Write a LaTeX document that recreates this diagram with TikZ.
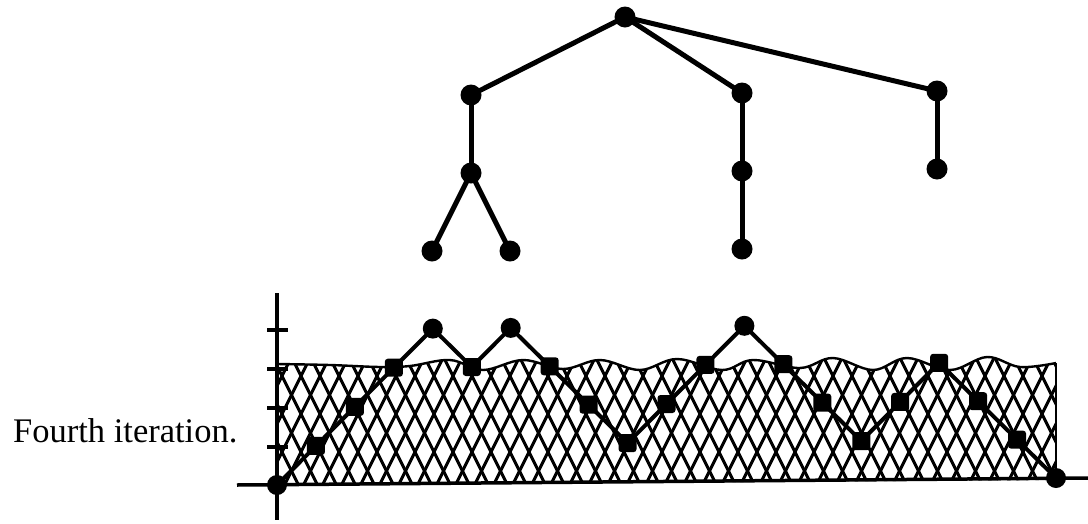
\documentclass[tikz,border=0pt]{standalone}
\usepackage{fontspec}
\setmainfont{Liberation Serif}
\begin{document}
\begin{tikzpicture}[x=1pt,y=-1pt,
  treedot/.style={circle,fill=black,inner sep=0pt,minimum size=21pt},
  cdot/.style={circle,fill=black,inner sep=0pt,minimum size=20pt},
  csq/.style={rectangle,rounded corners=3pt,fill=black,inner sep=0pt,minimum size=18pt},
  treeedge/.style={line width=5pt},
  chartline/.style={line width=4pt,line join=round},
  axisline/.style={line width=3.5pt},
  hatchline/.style={line width=3pt},
  label/.style={font=\fontsize{34.5}{40}\selectfont,inner sep=0pt,anchor=base west}]
\useasboundingbox (0,0) rectangle (1088,523);

% tree
\node[treedot] (r) at (625,17) {};
\node[treedot] (a1) at (471,95) {};
\node[treedot] (a2) at (742,93) {};
\node[treedot] (a3) at (937,91) {};
\node[treedot] (b1) at (471,173) {};
\node[treedot] (b2) at (742,171) {};
\node[treedot] (b3) at (937,169) {};
\node[treedot] (c1) at (432,251) {};
\node[treedot] (c2) at (510,251) {};
\node[treedot] (c3) at (742,249) {};
\draw[treeedge] (r.center) -- (a1.center);
\draw[treeedge] (r.center) -- (a2.center);
\draw[treeedge] (r.center) -- (a3.center);
\draw[treeedge] (a1.center) -- (b1.center);
\draw[treeedge] (a2.center) -- (b2.center);
\draw[treeedge] (a3.center) -- (b3.center);
\draw[treeedge] (b1.center) -- (c1.center);
\draw[treeedge] (b1.center) -- (c2.center);
\draw[treeedge] (b2.center) -- (c3.center);

% hatched region
\begin{scope}
  \clip (277,485) -- (277,364)
    -- plot[smooth,tension=0.6] coordinates {(277,364) (330,365) (380,367) (410,366) (450,360) (483,370) (523,360) (563,369) (600,360) (640,370) (677,359) (722,370) (753,360) (800,368) (833,358) (873,370) (907,358) (950,370) (987,357) (1020,367) (1056,363)}
    -- (1056,480) -- cycle;
  \foreach \c in {130,149,...,1200} {
    \draw[hatchline] (\c,490) -- ({\c+75},340);
    \draw[hatchline] (\c,490) -- ({\c-75},340);
  }
\end{scope}
\draw[line width=2.4pt] plot[smooth,tension=0.6] coordinates {(277,364) (330,365) (380,367) (410,366) (450,360) (483,370) (523,360) (563,369) (600,360) (640,370) (677,359) (722,370) (753,360) (800,368) (833,358) (873,370) (907,358) (950,370) (987,357) (1020,367) (1056,363)};
\coordinate (rt) at (1056,363);
\coordinate (rb) at (1056,478);
\draw[line width=2.4pt] (rt) -- (rb);

% axes
\coordinate (ytop) at (277,293);
\coordinate (ybot) at (277,520);
\coordinate (xl) at (237,485);
\coordinate (xr) at (1088,478);
\draw[axisline] (ytop) -- (ybot);
\draw[axisline] (xl) -- (xr);
\foreach \t in {330,369,408,447} {
  \coordinate (tl) at (267,\t);
  \coordinate (tr) at (288,\t);
  \draw[axisline] (tl) -- (tr);
}

% chart points
\foreach \h/\s [count=\i from 0] in {0/cdot,1/csq,2/csq,3/csq,4/cdot,3/csq,4/cdot,3/csq,2/csq,1/csq,2/csq,3/csq,4/cdot,3/csq,2/csq,1/csq,2/csq,3/csq,2/csq,1/csq,0/cdot} {
  \node[\s] (p\i) at ({277+\i*38.95},{485-\h*38.75-\i*0.35}) {};
}
\draw[chartline] (p0.center) \foreach \i in {1,...,20} { -- (p\i.center) };

% label
\node[label] (lab) at (13,442) {Fourth iteration.};
\end{tikzpicture}
\end{document}
